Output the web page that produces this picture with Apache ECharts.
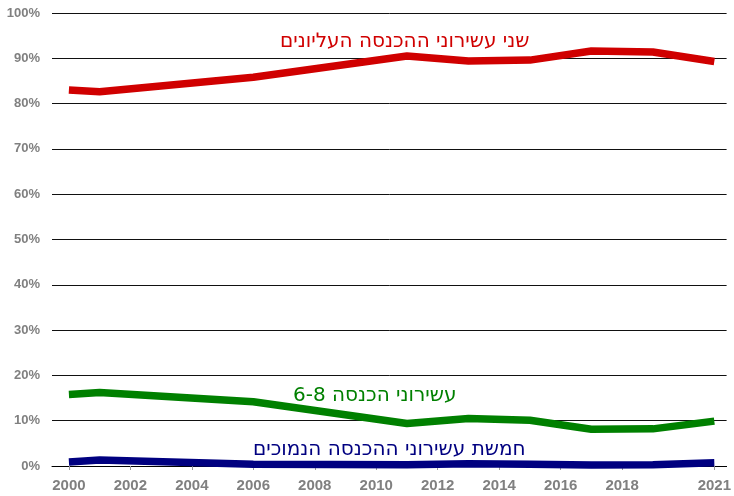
<!DOCTYPE html>
<html>
<head>
<meta charset="utf-8">
<script src="https://cdn.jsdelivr.net/npm/echarts@6/dist/echarts.min.js"></script>
<style>
  html, body { margin: 0; padding: 0; background: #fff; }
  #chart { width: 734px; height: 496px; }
</style>
</head>
<body>
<div id="chart"></div>
<script>
// survey years and shares of income (%)
var years = [2000, 2001, 2006, 2011, 2013, 2015, 2017, 2019, 2021];
var topTwo = [83.0, 82.6, 85.8, 90.5, 89.4, 89.6, 91.6, 91.4, 89.3];
var mid68 = [15.8, 16.2, 14.2, 9.4, 10.5, 10.1, 8.1, 8.2, 9.9];
var lowFive = [0.9, 1.3, 0.4, 0.3, 0.5, 0.4, 0.2, 0.3, 0.7];
var xTicks = [2000, 2002, 2004, 2006, 2008, 2010, 2012, 2014, 2016, 2018, 2021];

var labelTop = "שני עשירוני ההכנסה העליונים";
var labelMid = "עשירוני הכנסה 6-8";
var labelLow = "חמשת עשירוני ההכנסה הנמוכים";

function pairs(vals) {
  return years.map(function (y, i) { return [y, vals[i]]; });
}

var myChart = echarts.init(document.getElementById("chart"));
var option = {
  animation: false,
  grid: { left: 52, right: 5, top: 13, bottom: 30, containLabel: false },
  xAxis: {
    type: "value",
    min: 1999.45,
    max: 2021.4,
    splitLine: { show: false },
    axisLine: { lineStyle: { color: "#000", width: 1 } },
    axisTick: {
      show: true,
      length: 4,
      customValues: xTicks,
      lineStyle: { color: "#999" }
    },
    axisLabel: {
      customValues: xTicks,
      color: "#808080",
      fontFamily: "Liberation Sans",
      fontWeight: "bold",
      fontSize: 15,
      margin: 12,
      formatter: function (v) { return String(v); }
    }
  },
  yAxis: {
    type: "value",
    min: 0,
    max: 100,
    interval: 10,
    axisLine: { show: false },
    axisTick: { show: false },
    splitLine: { lineStyle: { color: "#111", width: 1 } },
    axisLabel: {
      color: "#808080",
      fontFamily: "Liberation Sans",
      fontWeight: "bold",
      fontSize: 13,
      margin: 12,
      formatter: "{value}%"
    }
  },
  series: [
    {
      name: labelTop,
      type: "line",
      data: pairs(topTwo),
      showSymbol: false,
      lineStyle: { color: "#d00000", width: 7.5 },
      itemStyle: { color: "#d00000" }
    },
    {
      name: labelMid,
      type: "line",
      data: pairs(mid68),
      showSymbol: false,
      lineStyle: { color: "#008000", width: 7.5 },
      itemStyle: { color: "#008000" }
    },
    {
      name: labelLow,
      type: "line",
      data: pairs(lowFive),
      showSymbol: false,
      lineStyle: { color: "#000080", width: 7.5 },
      itemStyle: { color: "#000080" }
    }
  ],
  graphic: [
    {
      type: "text", left: 280, top: 32,
      style: { text: labelTop, fill: "#d00000", font: "20px 'DejaVu Sans', sans-serif" }
    },
    {
      type: "text", left: 293, top: 386,
      style: { text: labelMid, fill: "#008000", font: "20px 'DejaVu Sans', sans-serif" }
    },
    {
      type: "text", left: 253, top: 440,
      style: { text: labelLow, fill: "#000080", font: "20px 'DejaVu Sans', sans-serif" }
    }
  ]
};
myChart.setOption(option);
</script>
</body>
</html>
